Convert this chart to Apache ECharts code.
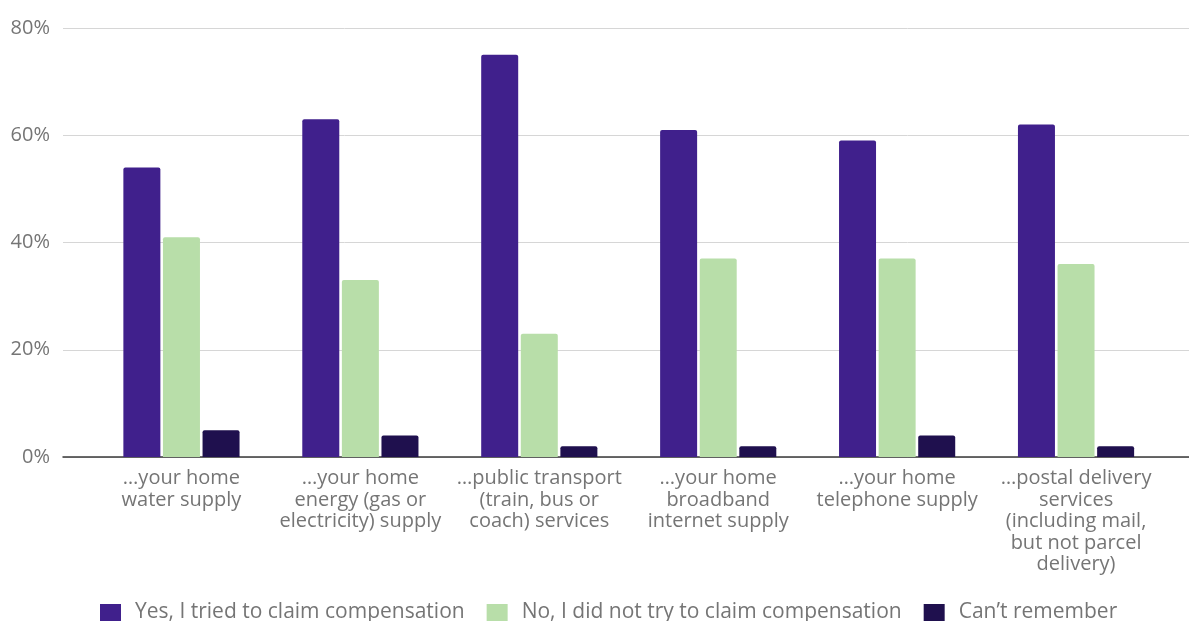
<!DOCTYPE html>
<html>
<head>
<meta charset="utf-8">
<script src="https://cdn.jsdelivr.net/npm/echarts@6/dist/echarts.min.js"></script>
<style>
  html, body { margin: 0; padding: 0; background: #fff; }
  #chart { width: 1189px; height: 621px; }
</style>
</head>
<body>
<div id="chart"></div>
<script>
const categories = [
  '…your home\nwater supply',
  '…your home\nenergy (gas or\nelectricity) supply',
  '…public transport\n(train, bus or\ncoach) services',
  '…your home\nbroadband\ninternet supply',
  '…your home\ntelephone supply',
  '…postal delivery\nservices\n(including mail,\nbut not parcel\ndelivery)'
]
const seriesNames = [
  'Yes, I tried to claim compensation',
  'No, I did not try to claim compensation',
  'Can’t remember'
]
const yesValues = [54, 63, 75, 61, 59, 62]
const noValues = [41, 33, 23, 37, 37, 36]
const cantRememberValues = [5, 4, 2, 2, 4, 2]
const yTicks = [0, 20, 40, 60, 80]

const colors = ['#40208c', '#b8dea9', '#1f104e']
const textColor = '#757575'
const font = '"Open Sans", Roboto, sans-serif'

const chart = echarts.init(document.getElementById('chart'))

const makeBar = (name, data, color) => ({
  name,
  type: 'bar',
  xAxisIndex: 1,
  yAxisIndex: 1,
  data,
  barWidth: 37,
  barGap: '7%',
  itemStyle: { color, borderRadius: [2, 2, 0, 0] }
})

const option = {
  backgroundColor: '#fff',
  animation: false,
  textStyle: { fontFamily: font },
  legend: {
    left: 100,
    top: 602,
    padding: 0,
    icon: 'rect',
    itemWidth: 21,
    itemHeight: 17,
    itemGap: 22,
    data: seriesNames,
    textStyle: {
      color: textColor,
      fontSize: 21,
      lineHeight: 17,
      fontFamily: font,
      padding: [0, 0, 0, 9]
    }
  },
  grid: [
    // gridlines + baseline span the full width
    { left: 63, right: 0, top: 28, bottom: 164 },
    // bars sit in a narrower band
    { left: 92, right: 23.5, top: 28, bottom: 164 }
  ],
  xAxis: [
    {
      gridIndex: 0,
      type: 'value',
      min: 0,
      max: 1,
      axisLine: { show: true, lineStyle: { color: '#3a3a3a', width: 1.5 } },
      axisTick: { show: false },
      axisLabel: { show: false },
      splitLine: { show: false }
    },
    {
      gridIndex: 1,
      type: 'category',
      data: categories,
      axisLine: { show: false },
      axisTick: { show: false },
      axisLabel: {
        interval: 0,
        color: textColor,
        fontSize: 20,
        lineHeight: 21.5,
        margin: 11,
        fontFamily: font,
        align: 'center'
      }
    }
  ],
  yAxis: [
    {
      gridIndex: 0,
      type: 'value',
      min: yTicks[0],
      max: yTicks[yTicks.length - 1],
      interval: 20,
      axisLine: { show: false },
      axisTick: { show: false },
      axisLabel: {
        color: textColor,
        fontSize: 20,
        margin: 13,
        fontFamily: font,
        formatter: '{value}%'
      },
      splitLine: { lineStyle: { color: '#d6d6d6', width: 1 } }
    },
    {
      gridIndex: 1,
      type: 'value',
      min: yTicks[0],
      max: yTicks[yTicks.length - 1],
      interval: 20,
      show: false,
      splitLine: { show: false }
    }
  ],
  series: [
    makeBar(seriesNames[0], yesValues, colors[0]),
    makeBar(seriesNames[1], noValues, colors[1]),
    makeBar(seriesNames[2], cantRememberValues, colors[2])
  ]
}

chart.setOption(option)
</script>
</body>
</html>
